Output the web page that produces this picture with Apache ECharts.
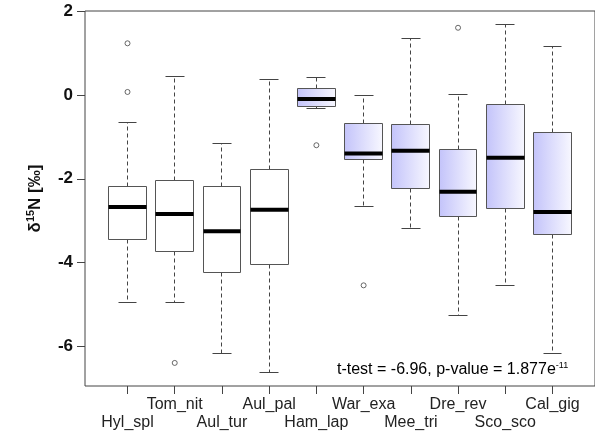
<!DOCTYPE html>
<html>
<head>
<meta charset="utf-8">
<script src="https://cdn.jsdelivr.net/npm/echarts@6/dist/echarts.min.js"></script>
<style>
  html, body { margin: 0; padding: 0; background: #fff; }
  #chart { width: 595px; height: 435px; }
</style>
</head>
<body>
<div id="chart"></div>
<script>
// species along the x axis
const species = ['Hyl_spl', 'Tom_nit', 'Aul_tur', 'Aul_pal', 'Ham_lap',
  'War_exa', 'Mee_tri', 'Dre_rev', 'Sco_sco', 'Cal_gig']

// box statistics (delta 15N, per mil)
const lowerWhisker = [-4.96, -4.96, -6.17, -6.62, -0.33, -2.65, -3.19, -5.25, -4.54, -6.17]
const lowerQuartile = [-3.44, -3.74, -4.24, -4.04, -0.28, -1.55, -2.24, -2.90, -2.70, -3.32]
const medians = [-2.67, -2.84, -3.25, -2.74, -0.10, -1.40, -1.33, -2.31, -1.50, -2.79]
const upperQuartile = [-2.19, -2.05, -2.19, -1.77, 0.15, -0.68, -0.71, -1.31, -0.22, -0.90]
const upperWhisker = [-0.67, 0.44, -1.15, 0.37, 0.41, -0.02, 1.35, 0.02, 1.69, 1.16]
// second group is drawn with the blue gradient
const shaded = [false, false, false, false, true, true, true, true, true, true]

// outliers
const outlierSpecies = ['Hyl_spl', 'Hyl_spl', 'Tom_nit', 'Ham_lap', 'War_exa', 'Dre_rev']
const outlierValues = [1.23, 0.07, -6.39, -1.20, -4.54, 1.60]

const yTicks = [-6, -4, -2, 0, 2]
const xTicks = species.map((s, i) => i + 1)
// labels alternate between two rows, like R does when they do not fit
const upperRowTicks = xTicks.filter((v) => v % 2 === 0)
const lowerRowTicks = xTicks.filter((v) => v % 2 === 1)

const font = 'Liberation Sans, Arial, Helvetica, sans-serif'
const lineColor = '#444'

const chart = echarts.init(document.getElementById('chart'))

const crisp = (v) => Math.round(v - 0.5) + 0.5

function renderBox(params, api) {
  const i = params.dataIndex
  const x = api.value(0)
  const cx = crisp(api.coord([x, 0])[0])
  const left = crisp(api.coord([x - 0.4, 0])[0])
  const right = crisp(api.coord([x + 0.4, 0])[0])
  const capLeft = crisp(api.coord([x - 0.2, 0])[0])
  const capRight = crisp(api.coord([x + 0.2, 0])[0])
  const yLow = crisp(api.coord([x, api.value(1)])[1])
  const yQ1 = crisp(api.coord([x, api.value(2)])[1])
  const yMed = api.coord([x, api.value(3)])[1]
  const yQ3 = crisp(api.coord([x, api.value(4)])[1])
  const yHigh = crisp(api.coord([x, api.value(5)])[1])

  const fill = shaded[i]
    ? new echarts.graphic.LinearGradient(0, 0, 1, 0, [
        { offset: 0, color: '#c3c3fa' },
        { offset: 1, color: '#f8f8ff' }
      ])
    : '#ffffff'

  const dashed = { stroke: lineColor, lineWidth: 1, lineDash: [4, 3] }
  const solid = { stroke: lineColor, lineWidth: 1 }

  return {
    type: 'group',
    children: [
      { type: 'line', shape: { x1: cx, y1: yQ3, x2: cx, y2: yHigh }, style: dashed },
      { type: 'line', shape: { x1: cx, y1: yQ1, x2: cx, y2: yLow }, style: dashed },
      { type: 'line', shape: { x1: capLeft, y1: yHigh, x2: capRight, y2: yHigh }, style: solid },
      { type: 'line', shape: { x1: capLeft, y1: yLow, x2: capRight, y2: yLow }, style: solid },
      {
        type: 'rect',
        shape: { x: left, y: yQ3, width: right - left, height: yQ1 - yQ3 },
        style: { fill: fill, stroke: '#555', lineWidth: 1 }
      },
      {
        type: 'line',
        shape: { x1: left, y1: yMed, x2: right, y2: yMed },
        style: { stroke: '#000', lineWidth: 4 }
      }
    ]
  }
}

function xAxisRow(ticks, margin, showTicks) {
  return {
    type: 'value',
    position: 'bottom',
    min: 0.1,
    max: 10.9,
    splitLine: { show: false },
    axisLine: { show: false, onZero: false },
    axisTick: {
      show: showTicks,
      customValues: xTicks,
      length: 8,
      lineStyle: { color: lineColor }
    },
    axisLabel: {
      customValues: ticks,
      showMinLabel: true,
      showMaxLabel: true,
      hideOverlap: false,
      margin: margin,
      fontFamily: font,
      fontSize: 16,
      color: '#222',
      formatter: (v) => species[Math.round(v) - 1]
    }
  }
}

chart.setOption({
  animation: false,
  grid: {
    left: 85,
    right: 0,
    top: 11,
    bottom: 49,
    show: true,
    borderColor: lineColor,
    borderWidth: 1
  },
  xAxis: [
    xAxisRow(upperRowTicks, 11, true),
    xAxisRow(lowerRowTicks, 29, false)
  ],
  yAxis: {
    type: 'value',
    min: -6.94,
    max: 2,
    splitLine: { show: false },
    axisLine: { show: false, onZero: false },
    axisTick: {
      customValues: yTicks,
      length: 8,
      lineStyle: { color: lineColor }
    },
    axisLabel: {
      customValues: yTicks,
      showMinLabel: true,
      showMaxLabel: true,
      margin: 12,
      fontFamily: font,
      fontSize: 17,
      fontWeight: 'bold',
      color: '#111'
    },
    name: '{a|δ}{s|15}{a|N [‰]}',
    nameLocation: 'middle',
    nameRotate: 90,
    nameGap: 40,
    nameTextStyle: {
      rich: {
        a: { fontFamily: font, fontSize: 17, fontWeight: 'bold', color: '#111', lineHeight: 20 },
        s: { fontFamily: font, fontSize: 11, fontWeight: 'bold', color: '#111', verticalAlign: 'top', lineHeight: 12 }
      }
    }
  },
  series: [
    {
      type: 'custom',
      renderItem: renderBox,
      clip: false,
      encode: { x: 0, y: [1, 2, 3, 4, 5] },
      data: species.map((s, i) => [i + 1, lowerWhisker[i], lowerQuartile[i], medians[i], upperQuartile[i], upperWhisker[i]])
    },
    {
      type: 'scatter',
      symbol: 'circle',
      symbolSize: 5,
      itemStyle: { color: '#fff', borderColor: lineColor, borderWidth: 1 },
      data: outlierSpecies.map((s, k) => [species.indexOf(s) + 1, outlierValues[k]])
    }
  ],
  graphic: [
    {
      type: 'text',
      left: 337,
      top: 361,
      style: {
        text: '{m|t-test = -6.96, p-value = 1.877e}{s|-11}',
        rich: {
          m: { fontFamily: font, fontSize: 16, color: '#111', lineHeight: 18 },
          s: { fontFamily: font, fontSize: 9, color: '#111', verticalAlign: 'top', lineHeight: 10 }
        }
      }
    }
  ]
})
</script>
</body>
</html>
